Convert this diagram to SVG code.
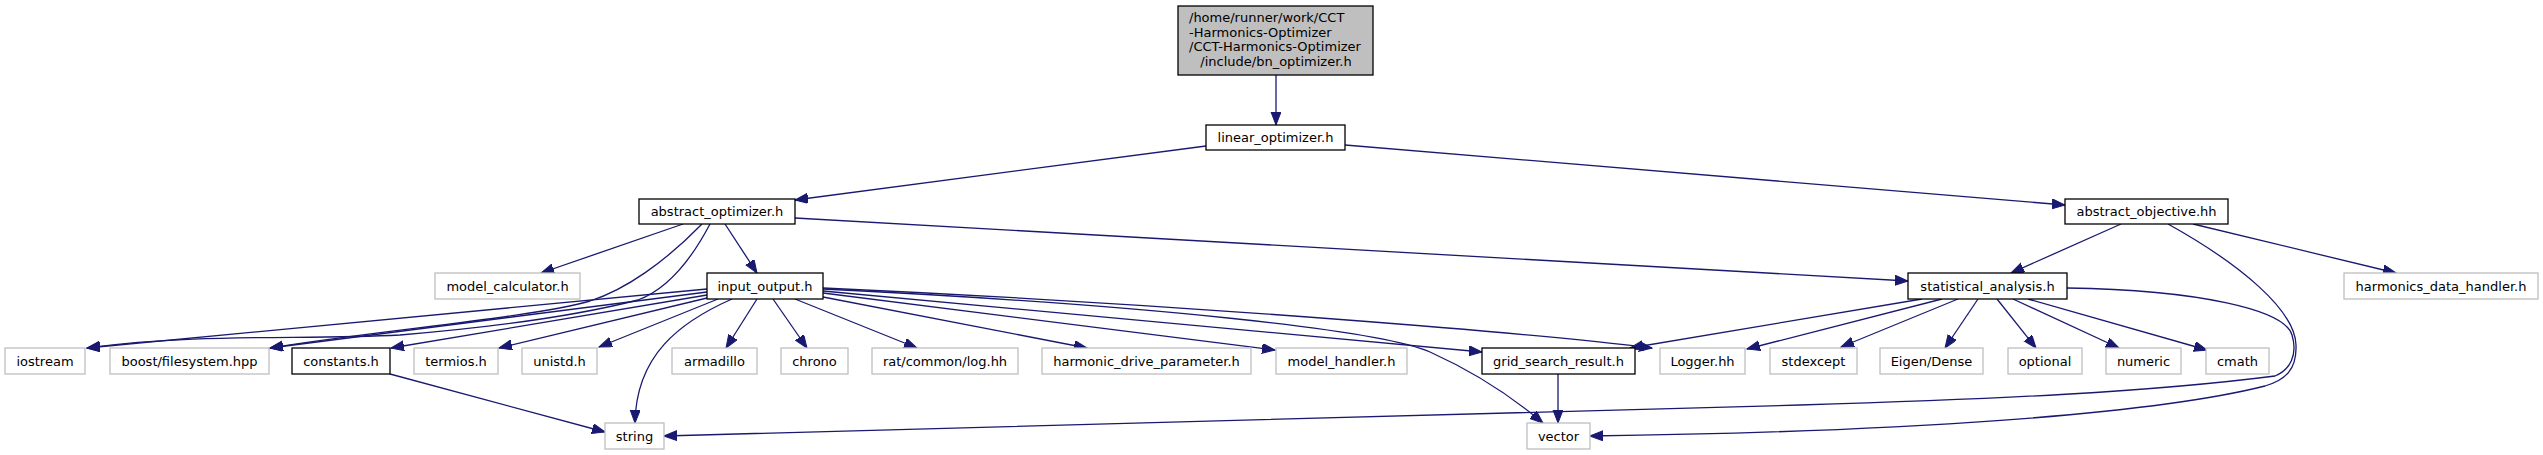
<svg xmlns="http://www.w3.org/2000/svg" width="2543" height="455" viewBox="0 0 2543 455">
<style>
rect{fill:#fff;stroke:#000;stroke-width:1.3}
.g rect{stroke:#bfbfbf}
.top rect{fill:#bfbfbf}
text{font-family:"DejaVu Sans","Liberation Sans",sans-serif;font-size:13px;text-anchor:middle;fill:#000}
.l{text-anchor:start}
#edges path{fill:none;stroke:#191970;stroke-width:1.3;marker-end:url(#a)}
</style>
<defs>
<marker id="a" markerUnits="userSpaceOnUse" markerWidth="14" markerHeight="12" refX="13" refY="5" orient="auto">
<path d="M0,0 L13,5 L0,10 Z" fill="#191970" stroke="#191970" stroke-width="1"/>
</marker>
</defs>
<rect x="0" y="0" width="2543" height="455" style="fill:#fff;stroke:none"/>
<g id="edges">
<path d="M1276,75 L1276,125"/>
<path d="M1206,146 L795,200"/>
<path d="M1345,145 L2065,205"/>
<path d="M683,224 L541,273"/>
<path d="M725,224 L757,273"/>
<path d="M795,218 L1908,281"/>
<path d="M702,224 C665,262 625,290 590,301 C530,318 380,330 270,348"/>
<path d="M710,224 C690,262 665,290 638,300 C560,320 460,330 400,335 C300,340 200,333 87,348"/>
<path d="M2121,224 L2011,273"/>
<path d="M2193,224 L2396,273"/>
<path d="M2168,224 C2240,264 2295,310 2296,345 C2297,370 2285,380 2265,386 C2150,415 1900,432 1590,436"/>
<path d="M2067,288 C2200,290 2285,310 2292,335 C2298,355 2290,370 2275,376 C2150,392 2000,399 1800,405 L664,436"/>
<path d="M1922,299 L1630,348"/>
<path d="M1942,299 L1747,349"/>
<path d="M1958,299 L1841,347"/>
<path d="M1978,299 L1945,348"/>
<path d="M1997,299 L2036,348"/>
<path d="M2013,299 L2119,348"/>
<path d="M2028,299 L2207,350"/>
<path d="M757,299 L726,348"/>
<path d="M773,299 L807,348"/>
<path d="M795,299 L917,348"/>
<path d="M823,297 L1087,348"/>
<path d="M823,293 L1275,350"/>
<path d="M823,291 L1482,352"/>
<path d="M823,289 C1150,305 1380,330 1430,352 C1470,370 1510,395 1543,423"/>
<path d="M823,288 C1200,305 1550,335 1652,348"/>
<path d="M732,299 C680,322 636,355 635,423"/>
<path d="M718,299 L599,347"/>
<path d="M707,298 L499,348"/>
<path d="M707,295 L391,348"/>
<path d="M707,292 L270,348"/>
<path d="M707,289 L87,348"/>
<path d="M390,374 L605,432"/>
<path d="M1558,374 L1558,423"/>
</g>
<g id="n_bn" class="top"><rect x="1178" y="6" width="195" height="69"/>
<text class="l" x="1189" y="22">/home/runner/work/CCT</text>
<text class="l" x="1189" y="36.5">-Harmonics-Optimizer</text>
<text class="l" x="1189" y="51">/CCT-Harmonics-Optimizer</text>
<text x="1276" y="65.5">/include/bn_optimizer.h</text></g>
<g id="n_linear"><rect x="1206" y="125" width="139" height="25"/><text x="1275.5" y="142">linear_optimizer.h</text></g>
<g id="n_abs_opt"><rect x="639" y="199" width="156" height="25"/><text x="717" y="216">abstract_optimizer.h</text></g>
<g id="n_abs_obj"><rect x="2065" y="199" width="163" height="25"/><text x="2146.5" y="216">abstract_objective.hh</text></g>
<g id="n_model_calc" class="g"><rect x="435" y="273" width="145" height="26"/><text x="507.5" y="290.5">model_calculator.h</text></g>
<g id="n_io"><rect x="707" y="273" width="116" height="26"/><text x="765" y="290.5">input_output.h</text></g>
<g id="n_stat"><rect x="1908" y="273" width="159" height="26"/><text x="1987.5" y="290.5">statistical_analysis.h</text></g>
<g id="n_hdh" class="g"><rect x="2344" y="273" width="194" height="26"/><text x="2441" y="290.5">harmonics_data_handler.h</text></g>
<g id="n_iostream" class="g"><rect x="5" y="348" width="80" height="26"/><text x="45" y="365.5">iostream</text></g>
<g id="n_boost" class="g"><rect x="110" y="348" width="159" height="26"/><text x="189.5" y="365.5">boost/filesystem.hpp</text></g>
<g id="n_constants"><rect x="292" y="348" width="98" height="26"/><text x="341" y="365.5">constants.h</text></g>
<g id="n_termios" class="g"><rect x="414" y="348" width="84" height="26"/><text x="456" y="365.5">termios.h</text></g>
<g id="n_unistd" class="g"><rect x="522" y="348" width="75" height="26"/><text x="559.5" y="365.5">unistd.h</text></g>
<g id="n_armadillo" class="g"><rect x="672" y="348" width="85" height="26"/><text x="714.5" y="365.5">armadillo</text></g>
<g id="n_chrono" class="g"><rect x="781" y="348" width="67" height="26"/><text x="814.5" y="365.5">chrono</text></g>
<g id="n_rat" class="g"><rect x="872" y="348" width="146" height="26"/><text x="945" y="365.5">rat/common/log.hh</text></g>
<g id="n_hdp" class="g"><rect x="1042" y="348" width="209" height="26"/><text x="1146.5" y="365.5">harmonic_drive_parameter.h</text></g>
<g id="n_mh" class="g"><rect x="1276" y="348" width="131" height="26"/><text x="1341.5" y="365.5">model_handler.h</text></g>
<g id="n_grid"><rect x="1482" y="348" width="153" height="26"/><text x="1558.5" y="365.5">grid_search_result.h</text></g>
<g id="n_logger" class="g"><rect x="1660" y="348" width="85" height="26"/><text x="1702.5" y="365.5">Logger.hh</text></g>
<g id="n_stdexcept" class="g"><rect x="1770" y="348" width="87" height="26"/><text x="1813.5" y="365.5">stdexcept</text></g>
<g id="n_eigen" class="g"><rect x="1880" y="348" width="103" height="26"/><text x="1931.5" y="365.5">Eigen/Dense</text></g>
<g id="n_optional" class="g"><rect x="2008" y="348" width="74" height="26"/><text x="2045" y="365.5">optional</text></g>
<g id="n_numeric" class="g"><rect x="2106" y="348" width="75" height="26"/><text x="2143.5" y="365.5">numeric</text></g>
<g id="n_cmath" class="g"><rect x="2206" y="348" width="63" height="26"/><text x="2237.5" y="365.5">cmath</text></g>
<g id="n_string" class="g"><rect x="605" y="423" width="59" height="26"/><text x="634.5" y="440.5">string</text></g>
<g id="n_vector" class="g"><rect x="1527" y="423" width="63" height="26"/><text x="1558.5" y="440.5">vector</text></g>
</svg>
